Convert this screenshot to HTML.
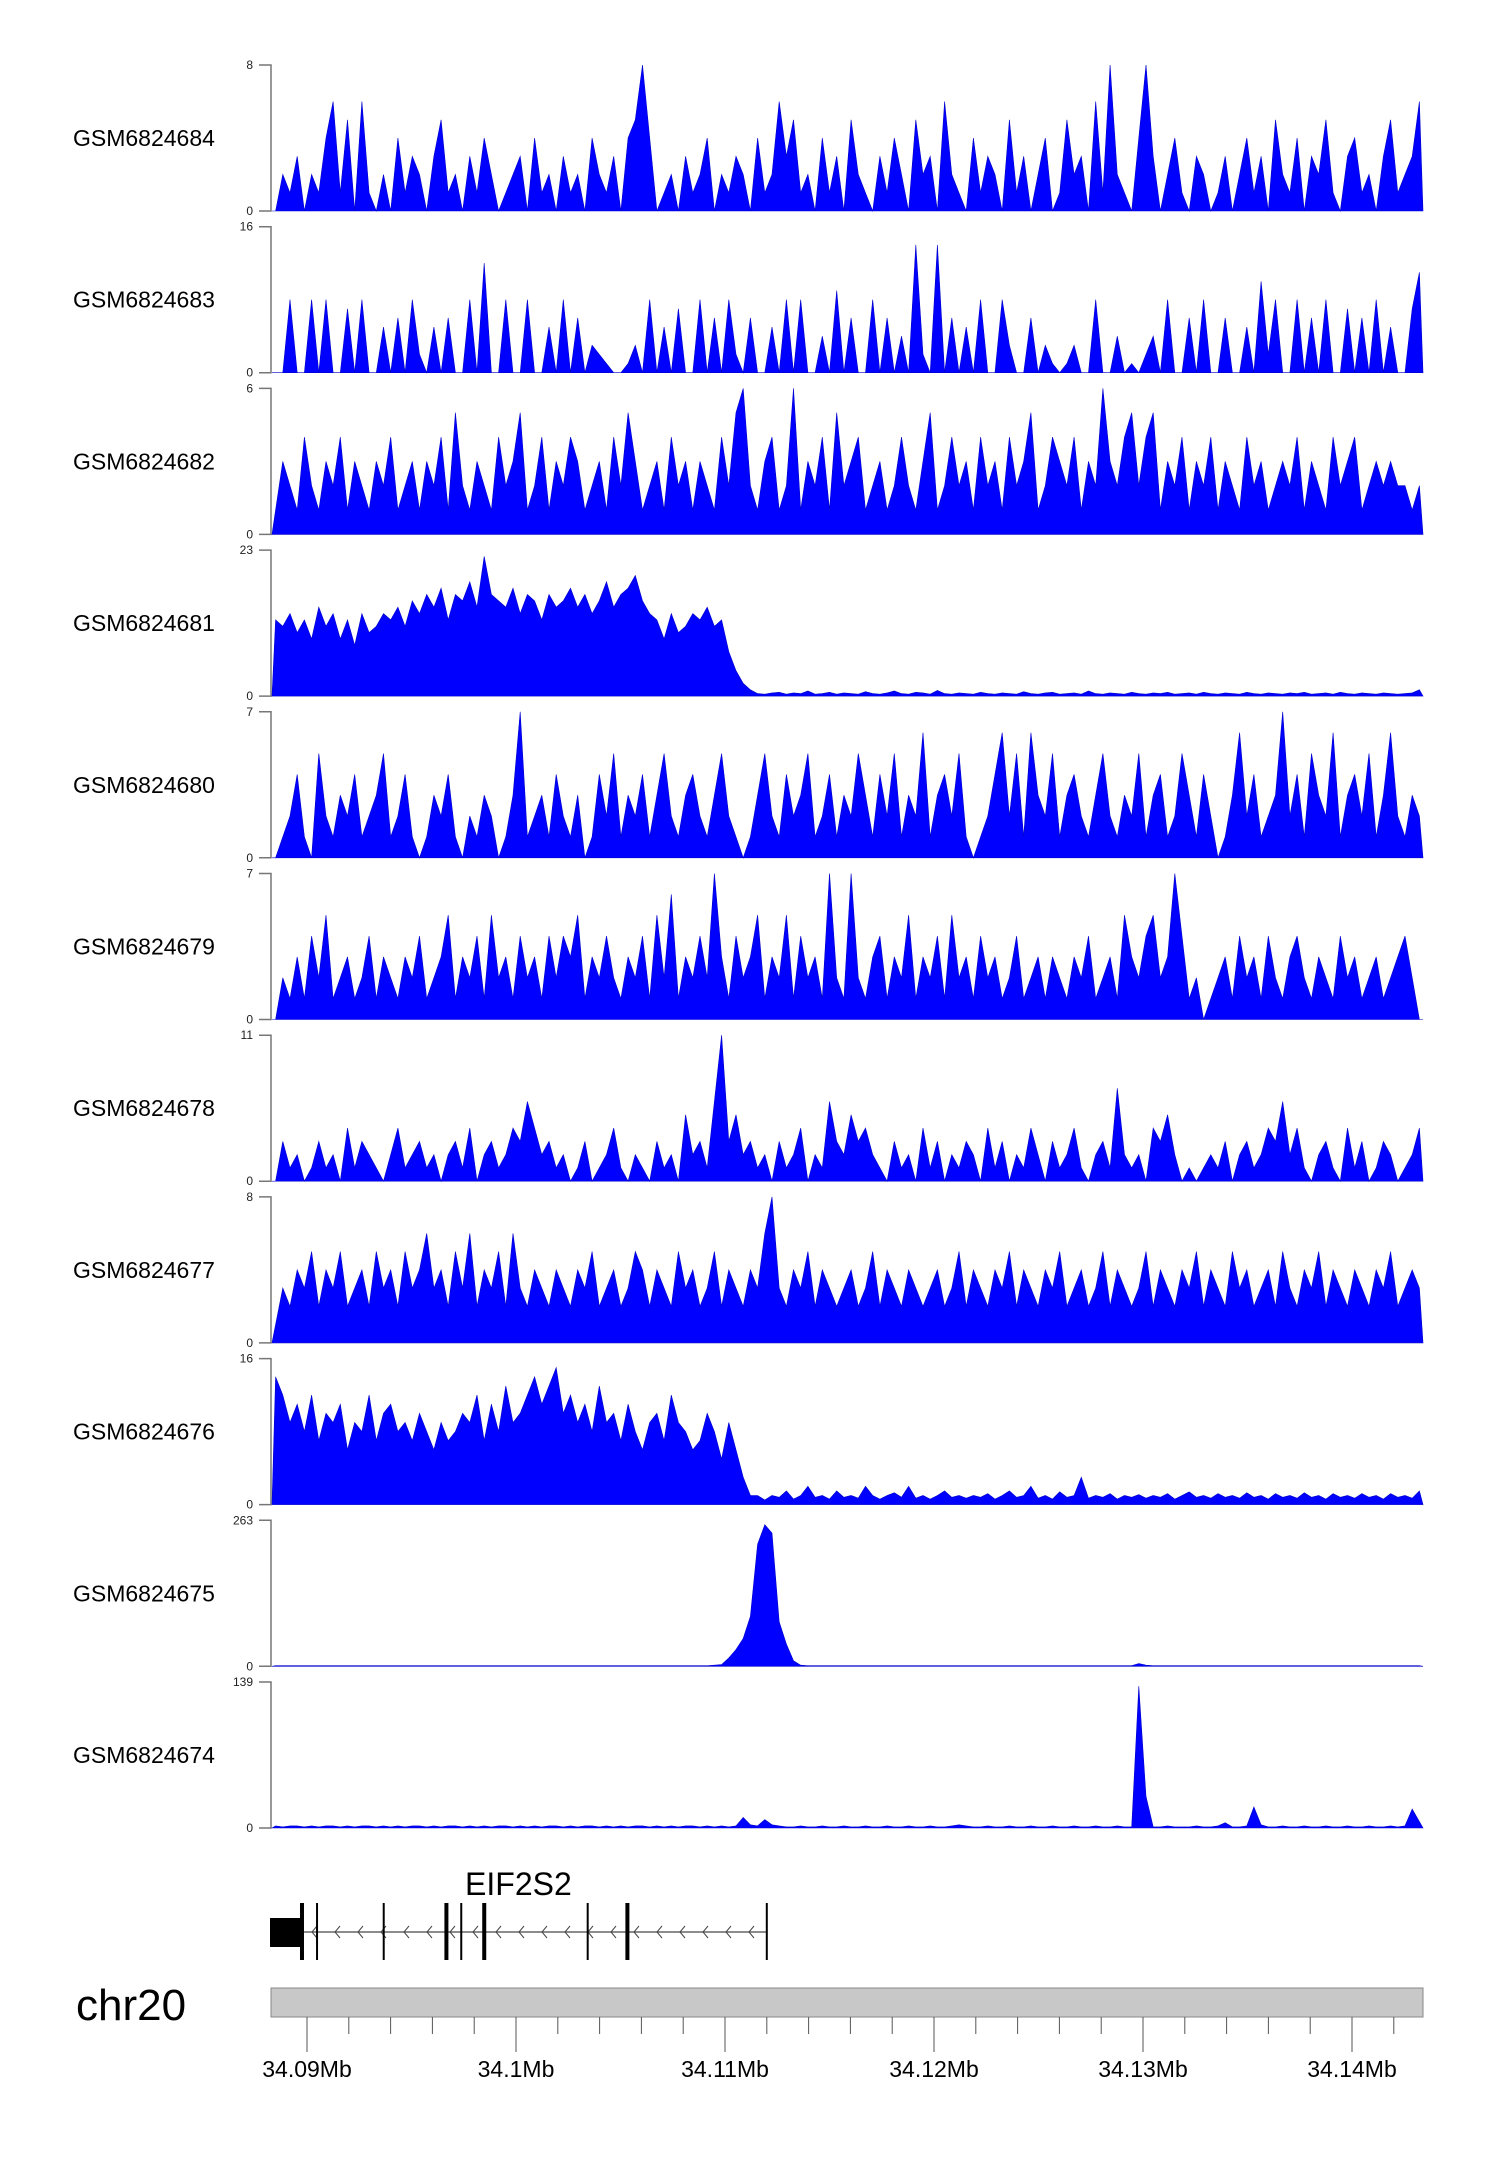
<!DOCTYPE html>
<html><head><meta charset="utf-8"><style>
html,body{margin:0;padding:0;background:#fff}
svg{display:block}
text{font-family:"Liberation Sans",sans-serif}
</style></head><body>
<svg id="chart" width="1500" height="2170" viewBox="0 0 1500 2170" xmlns="http://www.w3.org/2000/svg">
<g id="tracks"></g>
<g id="gene"></g>
<g id="ideo"></g>
</svg>
<script>
const sampleNames = ["GSM6824684","GSM6824683","GSM6824682","GSM6824681","GSM6824680","GSM6824679","GSM6824678","GSM6824677","GSM6824676","GSM6824675","GSM6824674"];
const yMax = [8,16,6,23,7,7,11,8,16,263,139];
const t684 = [0,2,1,3,0,2,1,4,6,1,5,0,6,1,0,2,0,4,1,3, 2,0,3,5,1,2,0,3,1,4,2,0,1,2,3,0,4,1,2,0, 3,1,2,0,4,2,1,3,0,4,5,8,4,0,1,2,0,3,1,2, 4,0,2,1,3,2,0,4,1,2,6,3,5,1,2,0,4,1,3,0, 5,2,1,0,3,1,4,2,0,5,2,3,0,6,2,1,0,4,1,3, 2,0,5,1,3,0,2,4,0,1,5,2,3,0,6,1,8,2,1,0, 4,8,3,0,2,4,1,0,3,2,0,1,3,0,2,4,1,3,0,5, 2,1,4,0,3,2,5,1,0,3,4,1,2,0,3,5,1,2,3,6];
const t683 = [0,0,8,0,0,8,0,8,0,0,7,0,8,0,0,5,0,6,0,8, 2,0,5,0,6,0,0,8,0,12,0,0,8,0,0,8,0,0,5,0, 8,0,6,0,3,2,1,0,0,1,3,0,8,0,5,0,7,0,0,8, 0,6,0,8,2,0,6,0,0,5,0,8,0,8,0,0,4,0,9,0, 6,0,0,8,0,6,0,4,0,14,2,0,14,0,6,0,5,0,8,0, 0,8,3,0,0,6,0,3,1,0,1,3,0,0,8,0,0,4,0,1, 0,2,4,0,8,0,0,6,0,8,0,0,6,0,0,5,0,10,2,8, 0,0,8,0,6,0,8,0,0,7,0,6,0,8,0,5,0,0,7,11];
const t682 = [1,3,2,1,4,2,1,3,2,4,1,3,2,1,3,2,4,1,2,3, 1,3,2,4,1,5,2,1,3,2,1,4,2,3,5,1,2,4,1,3, 2,4,3,1,2,3,1,4,2,5,3,1,2,3,1,4,2,3,1,3, 2,1,4,2,5,6,2,1,3,4,1,2,6,1,3,2,4,1,5,2, 3,4,1,2,3,1,2,4,2,1,3,5,1,2,4,2,3,1,4,2, 3,1,4,2,3,5,1,2,4,3,2,4,1,3,2,6,3,2,4,5, 2,4,5,1,3,2,4,1,3,2,4,1,3,2,1,4,2,3,1,2, 3,2,4,1,3,2,1,4,2,3,4,1,2,3,2,3,2,2,1,2];
const t681 = [12,11,13,10,12,9,14,11,13,9,12,8,13,10,11,13,12,14,11,15, 13,16,14,17,12,16,15,18,14,22,16,15,14,17,13,16,15,12,16,14, 15,17,14,16,13,15,18,14,16,17,19,15,13,12,9,13,10,11,13,12, 14,11,12,7,4,2,1,0.4,0.3,0.5,0.6,0.3,0.5,0.4,0.8,0.3,0.4,0.6,0.3,0.5, 0.4,0.3,0.7,0.4,0.3,0.5,0.8,0.4,0.3,0.6,0.5,0.3,0.9,0.4,0.3,0.5,0.4,0.3,0.6,0.4, 0.3,0.5,0.4,0.3,0.7,0.4,0.3,0.5,0.6,0.3,0.4,0.5,0.3,0.8,0.4,0.3,0.5,0.4,0.3,0.6, 0.4,0.3,0.5,0.4,0.6,0.3,0.4,0.5,0.3,0.6,0.4,0.3,0.5,0.4,0.3,0.6,0.4,0.3,0.5,0.4, 0.3,0.5,0.4,0.6,0.3,0.4,0.5,0.3,0.6,0.4,0.3,0.5,0.4,0.3,0.5,0.4,0.3,0.4,0.5,1];
const t680 = [0,1,2,4,1,0,5,2,1,3,2,4,1,2,3,5,1,2,4,1, 0,1,3,2,4,1,0,2,1,3,2,0,1,3,7,1,2,3,1,4, 2,1,3,0,1,4,2,5,1,3,2,4,1,3,5,2,1,3,4,2, 1,3,5,2,1,0,1,3,5,2,1,4,2,3,5,1,2,4,1,3, 2,5,3,1,4,2,5,1,3,2,6,1,3,4,2,5,1,0,1,2, 4,6,2,5,1,6,3,2,5,1,3,4,2,1,3,5,2,1,3,2, 5,1,3,4,1,2,5,3,1,4,2,0,1,3,6,2,4,1,2,3, 7,2,4,1,5,3,2,6,1,3,4,2,5,1,3,6,2,1,3,2];
const t679 = [0,2,1,3,1,4,2,5,1,2,3,1,2,4,1,3,2,1,3,2, 4,1,2,3,5,1,3,2,4,1,5,2,3,1,4,2,3,1,4,2, 4,3,5,1,3,2,4,2,1,3,2,4,1,5,2,6,1,3,2,4, 2,7,3,1,4,2,3,5,1,3,2,5,1,4,2,3,1,7,2,1, 7,2,1,3,4,1,3,2,5,1,3,2,4,1,5,2,3,1,4,2, 3,1,2,4,1,2,3,1,3,2,1,3,2,4,1,2,3,1,5,3, 2,4,5,2,3,7,4,1,2,0,1,2,3,1,4,2,3,1,4,2, 1,3,4,2,1,3,2,1,4,2,3,1,2,3,1,2,3,4,2,0];
const t678 = [0,3,1,2,0,1,3,1,2,0,4,1,3,2,1,0,2,4,1,2, 3,1,2,0,2,3,1,4,0,2,3,1,2,4,3,6,4,2,3,1, 2,0,1,3,0,1,2,4,1,0,2,1,0,3,1,2,0,5,2,3, 1,6,11,3,5,2,3,1,2,0,3,1,2,4,0,2,1,6,3,2, 5,3,4,2,1,0,3,1,2,0,4,1,3,0,2,1,3,2,0,4, 1,3,0,2,1,4,2,0,3,1,2,4,1,0,2,3,1,7,2,1, 2,0,4,3,5,2,0,1,0,1,2,1,3,0,2,3,1,2,4,3, 6,2,4,1,0,2,3,1,0,4,1,3,0,1,3,2,0,1,2,4];
const t677 = [1,3,2,4,3,5,2,4,3,5,2,3,4,2,5,3,4,2,5,3, 4,6,3,4,2,5,3,6,2,4,3,5,2,6,3,2,4,3,2,4, 3,2,4,3,5,2,3,4,2,3,5,4,2,4,3,2,5,3,4,2, 3,5,2,4,3,2,4,3,6,8,3,2,4,3,5,2,4,3,2,3, 4,2,3,5,2,4,3,2,4,3,2,3,4,2,3,5,2,4,3,2, 4,3,5,2,4,3,2,4,3,5,2,3,4,2,3,5,2,4,3,2, 3,5,2,4,3,2,4,3,5,2,4,3,2,5,3,4,2,3,4,2, 5,3,2,4,3,5,2,4,3,2,4,3,2,4,3,5,2,3,4,3];
const t676 = [14,12,9,11,8,12,7,10,9,11,6,9,8,12,7,10,11,8,9,7, 10,8,6,9,7,8,10,9,12,7,11,8,13,9,10,12,14,11,13,15, 10,12,9,11,8,13,9,10,7,11,8,6,9,10,7,12,9,8,6,7, 10,8,5,9,6,3,1,1,0.5,1,0.8,1.5,0.6,1,2,0.8,1,0.6,1.5,0.8, 1,0.7,2,1,0.6,1,1.3,0.8,2,0.7,1,0.6,1,1.5,0.8,1,0.7,1,0.8,1.2, 0.6,1,1.5,0.8,1,2,0.7,1,0.6,1.4,0.8,1,3,0.7,1,0.8,1.2,0.6,1,0.8, 1.1,0.7,1,0.8,1.2,0.6,1,1.4,0.8,1,0.7,1.2,0.8,1,0.7,1.3,0.8,1,0.6,1.2, 0.8,1,0.7,1.3,0.8,1,0.6,1.2,0.8,1,0.7,1.2,0.8,1,0.6,1.2,0.8,1,0.7,1.5];
const t675 = [1,1,1,1,1,1,1,1,1,1,1,1,1,1,1,1,1,1,1,1, 1,1,1,1,1,1,1,1,1,1,1,1,1,1,1,1,1,1,1,1, 1,1,1,1,1,1,1,1,1,1,1,1,1,1,1,1,1,1,1,1, 1,2,3,15,30,50,90,220,255,240,80,40,10,2,1,1,1,1,1,1, 1,1,1,1,1,1,1,1,1,1,1,1,1,1,1,1,1,1,1,1, 1,1,1,1,1,1,1,1,1,1,1,1,1,1,1,1,1,1,1,1, 5,2,1,1,1,1,1,1,1,1,1,1,1,1,1,1,1,1,1,1, 1,1,1,1,1,1,1,1,1,1,1,1,1,1,1,1,1,1,1,1];
const t674 = [2,1,2,2,1,2,1,2,2,1,2,1,2,2,1,2,1,2,1,2, 2,1,2,1,2,2,1,2,1,2,1,2,2,1,2,1,2,1,2,2, 1,2,1,2,2,1,2,1,2,1,2,2,1,2,1,2,1,2,2,1, 2,1,2,1,2,10,3,2,8,3,2,1,1,2,1,1,2,1,1,2, 1,1,2,1,1,2,1,1,2,1,1,2,1,1,2,3,2,1,1,2, 1,1,2,1,1,2,1,1,2,1,1,2,1,1,2,1,1,2,1,1, 135,30,1,1,2,1,1,1,2,1,1,2,5,1,1,2,20,3,1,1, 2,1,1,2,1,1,2,1,1,2,1,1,2,1,1,2,1,2,18,6];
const series = [t684,t683,t682,t681,t680,t679,t678,t677,t676,t675,t674];
const axisTicks = ["34.09Mb","34.1Mb","34.11Mb","34.12Mb","34.13Mb","34.14Mb"];
const tickMb = [34.09,34.10,34.11,34.12,34.13,34.14];
const exonStarts = [34.08976,34.09048,34.09367,34.09667,34.09738,34.09848,34.10343,34.10533,34.11200];
const exonThick = [1,0,0,1,0,1,0,1,0];

const NS="http://www.w3.org/2000/svg";
const X0=272, X1=1423, MB0=34.088325, MB1=34.143397;
const xMb = mb => X0 + (mb-MB0)/(MB1-MB0)*(X1-X0);
function mk(tag, attrs, parent){const e=document.createElementNS(NS,tag);for(const k in attrs)e.setAttribute(k,attrs[k]);parent.appendChild(e);return e;}

const tg=document.getElementById('tracks');
series.forEach((vals,i)=>{
  const top=65+161.7*i, h=146, base=top+h;
  const g=mk('g',{},tg);
  
  
  const lab=mk('text',{x:73,y:top+h/2+8,'font-size':23,fill:'#000'},g);
  lab.textContent=sampleNames[i];
  
  
  const ax=mk('path',{d:`M259 ${top}H271V${base}H259`,stroke:'#777','stroke-width':1.5,fill:'none'},g);
  
  
  const tmax=mk('text',{x:253,y:top+4,'font-size':12,'text-anchor':'end',fill:'#222'},g);
  tmax.textContent=yMax[i];
  
  
  const t0=mk('text',{x:253,y:base+4,'font-size':12,'text-anchor':'end',fill:'#222'},g);
  t0.textContent='0';
  
  
  const n=vals.length, w=(X1-X0)/n;
  let d=`M${X0} ${base}`;
  vals.forEach((v,j)=>{const y=base-Math.min(v,yMax[i])/yMax[i]*h;d+=`L${(X0+w*(j+0.5)).toFixed(1)} ${y.toFixed(1)}`;});
  d+=`L${X1} ${base}Z`;
  const a=mk('path',{d,fill:'#0000ff',stroke:'#0000cc','stroke-width':0.6},g);
  
  
});

const gg=document.getElementById('gene');
const lineY=1932;
const xs=xMb(exonStarts[0]), xe=xMb(exonStarts[exonStarts.length-1]);
const intr=mk('line',{x1:270,y1:lineY,x2:xe,y2:lineY,stroke:'#666','stroke-width':1.5},gg);


for(let x=xs+10;x<xe-5;x+=23){
  const c=mk('path',{d:`M${x+5} ${lineY-6}L${x} ${lineY}L${x+5} ${lineY+6}`,stroke:'#444','stroke-width':1,fill:'none'},gg);
  
  
}
const utr=mk('rect',{x:270,y:1918,width:31,height:29,fill:'#000'},gg);


exonStarts.forEach((mb,k)=>{
  const ex=mk('rect',{x:xMb(mb)-(exonThick[k]?2:1),y:1903,width:exonThick[k]?4:2,height:57,fill:'#000'},gg);
  
  
});
const gl=mk('text',{x:(270+xe)/2,y:1895,'font-size':32,'text-anchor':'middle',fill:'#000'},gg);
gl.textContent='EIF2S2';



const ig=document.getElementById('ideo');
const cl=mk('text',{x:76,y:2020,'font-size':44,fill:'#000'},ig);
cl.textContent='chr20';


const bar=mk('rect',{x:271,y:1988,width:1152,height:29,fill:'#c8c8c8',stroke:'#888','stroke-width':1},ig);


for(let mb=34.090;mb<34.1432;mb+=0.002){
  const maj=Math.abs(mb*100-Math.round(mb*100))<1e-6;
  const t=mk('line',{x1:xMb(mb),y1:2017,x2:xMb(mb),y2:maj?2052:2034,stroke:'#555','stroke-width':1},ig);
  
  
}
tickMb.forEach((mb,k)=>{
  const t=mk('text',{x:xMb(mb),y:2077,'font-size':23,'text-anchor':'middle',fill:'#000'},ig);
  t.textContent=axisTicks[k];
  
  
});
</script>
</body></html>
